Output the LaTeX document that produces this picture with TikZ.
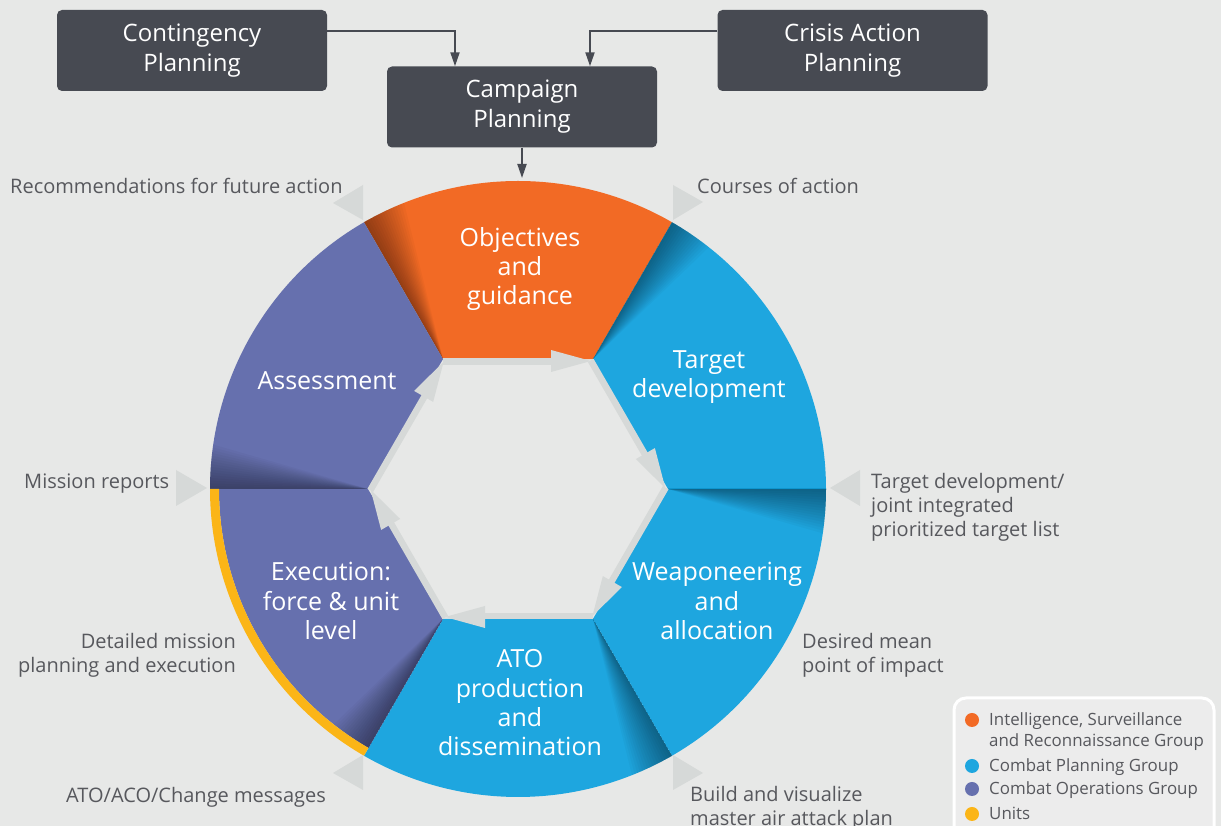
\documentclass[tikz,border=0pt]{standalone}
\usepackage{fontspec}
\setmainfont{Open Sans}
\usetikzlibrary{arrows.meta,calc}
\definecolor{bg}{HTML}{E7E8E7}
\definecolor{boxc}{HTML}{474A52}
\definecolor{orng}{HTML}{F26A25}
\definecolor{blu}{HTML}{1EA6DF}
\definecolor{purp}{HTML}{6670AE}
\definecolor{yel}{HTML}{FBB517}
\definecolor{tri}{HTML}{D6D9D8}
\definecolor{txt}{HTML}{57585D}
\definecolor{legfill}{HTML}{ECECEC}
\tikzset{
 darkbox/.style={fill=boxc, rounded corners=5pt, minimum width=270pt, minimum height=81pt, text=white, font=\fontsize{24}{30}\selectfont, align=center, inner sep=0pt},
 conn/.style={draw=boxc, line width=2pt, -{Triangle[length=14pt,width=9pt]}},
 lbl/.style={text=txt, font=\fontsize{20}{24}\selectfont, inner sep=0pt},
 seglbl/.style={text=white, font=\fontsize{25}{29.3}\selectfont, align=center, inner sep=0pt},
 legtxt/.style={text=txt, font=\fontsize{16.9}{21}\selectfont, anchor=base west, inner sep=0pt},
 outtri/.style={fill=tri},
}
\begin{document}
\begin{tikzpicture}[x=1pt,y=1pt]
\useasboundingbox (0,0) rectangle (1221,826);
\fill[bg] (0,0) rectangle (1221,826);

\begin{scope}[shift={(518,337)}]
  % segments
  \foreach \a/\b/\c/\ro in {60/120/orng/308, 0/60/blu/308, -60/0/blu/308, -120/-60/blu/308, 180/240/purp/299, 120/180/purp/308} {
    \fill[\c] (\a:150) -- (\a:\ro) arc[start angle=\a, end angle=\b, radius=\ro] -- (\b:150) -- cycle;
    \begin{scope}
      \clip (\a:150) -- (\a:\ro) arc[start angle=\a, end angle=\b, radius=\ro] -- (\b:150) -- cycle;
      \foreach \k in {1,...,16} {
        \fill[black, opacity=0.026] (\b:150) -- +(\b:200) -- +(\b-\k*1:200) -- cycle;
      }
    \end{scope}
  }
  % units arc
  \fill[yel] (180:299) arc[start angle=180, end angle=240, radius=299] -- (240:308) arc[start angle=240, end angle=180, radius=308] -- cycle;
  % inner cycle arrows
  \foreach \k in {0,...,5} {
    \begin{scope}[rotate=-60*\k]
      \fill[tri] (-75,124) rectangle (40,130.5);
      \fill[tri] (73,128) -- (33,139) -- (33,117) -- cycle;
    \end{scope}
  }
\end{scope}

% outer triangles
\fill[outtri] (333,623) -- (363,641) -- (363,606) -- cycle;
\fill[outtri] (703,624) -- (673,641) -- (673,606) -- cycle;
\fill[outtri] (830,338) -- (860,356) -- (860,320) -- cycle;
\fill[outtri] (207,338) -- (176,356) -- (176,320) -- cycle;
\fill[outtri] (333,53) -- (363,71) -- (363,36) -- cycle;
\fill[outtri] (703,53) -- (673,71) -- (673,36) -- cycle;

% segment labels
\node[seglbl] (obj) at (520,557) {Objectives\\and\\guidance};
\node[seglbl] (tdev) at (709,449) {Target\\development};
\node[seglbl] (weap) at (717,225) {Weaponeering\\and\\allocation};
\node[seglbl] (ato) at (520,123) {ATO\\production\\and\\dissemination};
\node[seglbl] (exec) at (331,225) {Execution:\\force \& unit\\level};
\node[seglbl] (assess) at (327,445) {Assessment};

% outer labels
\node[lbl, anchor=base west] (rec) at (10,632) {Recommendations for future action};
\node[lbl, anchor=base west] (coa) at (697,632) {Courses of action};
\node[lbl, anchor=base west] (mrep) at (24,337) {Mission reports};
\node[lbl, anchor=base west, align=left] (tdl) at (871,289) {Target development/\\joint integrated\\prioritized target list};
\node[lbl, anchor=base east, align=right] (dmp) at (236,153) {Detailed mission\\planning and execution};
\node[lbl, anchor=base west, align=left] (dmpi) at (802,153) {Desired mean\\point of impact};
\node[lbl, anchor=base west] (aco) at (66,23) {ATO/ACO/Change messages};
\node[lbl, anchor=base west, align=left] (maap) at (690,0) {Build and visualize\\master air attack plan};

% planning boxes
\node[darkbox] (cont) at (192,775.5) {Contingency\\Planning};
\node[darkbox] (camp) at (522,719) {Campaign\\Planning};
\node[darkbox] (crisis) at (852.5,775.5) {Crisis Action\\Planning};
\coordinate (ringtop) at (522,648);
\draw[conn] ([yshift=19.5pt]cont.east) -| ([xshift=-67pt]camp.north);
\draw[conn] ([yshift=19.5pt]crisis.west) -| ([xshift=68pt]camp.north);
\draw[conn] (camp.south) -- (ringtop);

% legend
\draw[white, line width=3pt, fill=legfill, rounded corners=12pt] (954,128) rectangle (1214,-30);
\fill[orng] (972,106) circle (7);
\fill[blu] (972,60) circle (7);
\fill[purp] (972,37) circle (7);
\fill[yel] (972,12) circle (7);
\node[legtxt] (l1) at (989,100) {Intelligence, Surveillance};
\node[legtxt] (l1b) at (989,79) {and Reconnaissance Group};
\node[legtxt] (l2) at (989,54) {Combat Planning Group};
\node[legtxt] (l3) at (989,31) {Combat Operations Group};
\node[legtxt] (l4) at (989,6) {Units};
\end{tikzpicture}
\end{document}
